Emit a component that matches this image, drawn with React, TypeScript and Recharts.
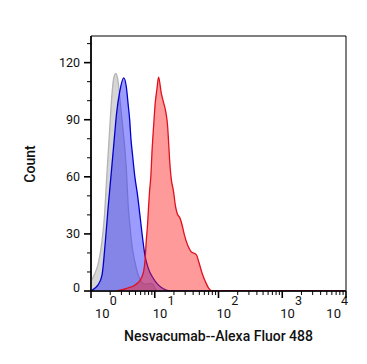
import React from "react";
import { ComposedChart, Area, XAxis, YAxis, ReferenceArea } from "recharts";

// Fluorescence values (x) and counts for each histogram
const grayX = [1, 1.086, 1.303, 1.472, 1.622, 1.766, 1.919, 2.065, 2.249, 2.449, 2.661, 2.831, 3.006, 3.192, 3.388, 3.597, 3.828, 4.074, 4.315, 4.875, 5.495, 6.166, 7.079, 8.318, 9.333, 10, 10.96, 10000];
const grayY = [5, 7.5, 14.6, 25, 39, 60, 79.6, 97, 111, 114.3, 110, 101.5, 92.7, 84, 75, 63, 45, 34.8, 26, 15.4, 8.4, 4.9, 3.5, 4, 3.5, 1.5, 0, 0];

const blueX = [1, 1.148, 1.288, 1.489, 1.679, 1.854, 2.065, 2.291, 2.512, 2.831, 3.266, 3.597, 3.828, 4.064, 4.217, 4.477, 4.875, 5.358, 5.848, 6.353, 6.998, 7.907, 9.462, 11.35, 14.45, 17.54, 10000];
const blueY = [0, 1.4, 3.2, 8.4, 26, 43.6, 61, 78, 93, 105, 112, 106.8, 98, 89, 80.5, 71.7, 60, 50.6, 40, 29.5, 19, 12, 6.7, 3.2, 0.8, 0, 0];

const redX = [2.512, 3.631, 4.932, 5.916, 6.668, 7.079, 7.345, 7.709, 7.98, 8.279, 8.71, 9.036, 9.594, 10.19, 10.81, 11.48, 12.65, 13.77, 15.0, 15.92, 16.52, 17.1, 17.99, 19.77, 21.04, 22.39, 25.12, 26.79, 29.17, 32.89, 37.15, 45.08, 48.98, 55.34, 62.37, 70.47, 79.43, 10000];
const redY = [0, 1.4, 3.2, 5.8, 10, 17, 26, 34.8, 43.6, 52, 61, 72.6, 86.6, 99, 106, 112.4, 104, 99, 93.6, 86.6, 77.8, 69, 60, 52, 45, 41, 38, 34.8, 29.5, 24, 20.7, 19, 15.4, 9.3, 4.9, 1.4, 0, 0];

const xMajorTicks = [1, 10, 100, 1000, 10000];
const xMinorMultipliers = [2, 3, 4, 5, 6, 7, 8, 9];
const yMajorTicks = [0, 30, 60, 90, 120];
const yMinorTicks = [10, 20, 40, 50, 70, 80, 100, 110, 130];
const yMax = 134;

const xTicks: number[] = [];
xMajorTicks.forEach((m, i) => {
  xTicks.push(m);
  if (i < xMajorTicks.length - 1) xMinorMultipliers.forEach((k) => xTicks.push(m * k));
});
const yTicks = [...yMajorTicks, ...yMinorTicks].sort((a, b) => a - b);

// Merge series into one table
const rowsMap = new Map<number, any>();
const addSeries = (xs: number[], ys: number[], key: string) => {
  xs.forEach((x, i) => {
    const row = rowsMap.get(x) || { x };
    row[key] = ys[i];
    rowsMap.set(x, row);
  });
};
addSeries(grayX, grayY, "gray");
addSeries(blueX, blueY, "blue");
addSeries(redX, redY, "red");
const data = Array.from(rowsMap.values()).sort((a, b) => a.x - b.x);

const FONT = "Roboto, 'Noto Sans', sans-serif";

const XTick = (props: any) => {
  const { x, y, payload } = props;
  const v = payload.value;
  const exp = Math.round(Math.log10(v));
  const isMajor = Math.abs(Math.pow(10, exp) - v) < 1e-6;
  if (!isMajor) {
    return <line x1={x} y1={y} x2={x} y2={y + 4} stroke="#000" strokeWidth={1} />;
  }
  let anchor: "start" | "end" = "start";
  let tx = x - 2;
  if (exp === 0) tx = x + 4;
  if (exp === 4) {
    anchor = "end";
    tx = x + 2;
  }
  return (
    <g>
      <line x1={x} y1={y} x2={x} y2={y + 7} stroke="#000" strokeWidth={1.6} />
      <text x={tx} y={y + 27} textAnchor={anchor} fontFamily={FONT} fontSize={13} fill="#111">
        10
        <tspan dy={-13} fontSize={12.5}>{exp}</tspan>
      </text>
    </g>
  );
};

const YTick = (props: any) => {
  const { x, y, payload } = props;
  const v = payload.value;
  const isMajor = yMajorTicks.includes(v);
  if (!isMajor) {
    return <line x1={x - 4} y1={y} x2={x} y2={y} stroke="#000" strokeWidth={1} />;
  }
  const dy = v === 0 ? 0.5 : 4.5;
  return (
    <g>
      <line x1={x - 7} y1={y} x2={x} y2={y} stroke="#000" strokeWidth={1.6} />
      <text x={x - 11} y={y + dy} textAnchor="end" fontFamily={FONT} fontSize={12.5} fill="#111">
        {v}
      </text>
    </g>
  );
};

const XTitle = () => (
  <text x={210.5} y={333} textAnchor="middle" fontFamily={FONT} fontSize={14} fontWeight={500} fill="#111">
    Nesvacumab--Alexa Fluor 488
  </text>
);

const YTitle = () => (
  <text
    x={27}
    y={156}
    textAnchor="middle"
    fontFamily={FONT}
    fontSize={14}
    fontWeight={500}
    fill="#111"
    transform="rotate(-90 27 156)"
  >
    Count
  </text>
);

export default function App() {
  return (
    <div style={{ width: 359, height: 356 }}>
      <ComposedChart width={359} height={356} data={data} margin={{ top: 28, right: 21, left: 0, bottom: 0 }}>
        <ReferenceArea x1={1} x2={10000} y1={0} y2={yMax} fill="none" stroke="#000" strokeWidth={1} ifOverflow="visible" />
        <Area
          type="monotone"
          dataKey="gray"
          connectNulls
          stroke="#b4b4b4"
          strokeWidth={1.3}
          fill="#c8c8c8"
          fillOpacity={0.75}
          isAnimationActive={false}
          dot={false}
          activeDot={false}
        />
        <Area
          type="monotone"
          dataKey="blue"
          connectNulls
          stroke="#0000cc"
          strokeWidth={1.3}
          fill="#2424ff"
          fillOpacity={0.45}
          isAnimationActive={false}
          dot={false}
          activeDot={false}
        />
        <Area
          type="monotone"
          dataKey="red"
          connectNulls
          stroke="#e0101e"
          strokeWidth={1.3}
          fill="#ff2020"
          fillOpacity={0.45}
          isAnimationActive={false}
          dot={false}
          activeDot={false}
        />
        <XAxis
          dataKey="x"
          type="number"
          scale="log"
          domain={[1, 10000]}
          allowDataOverflow
          ticks={xTicks}
          interval={0}
          tick={<XTick />}
          tickLine={false}
          tickSize={0}
          tickMargin={0}
          height={73}
          axisLine={{ stroke: "#000", strokeWidth: 1.6 }}
          label={<XTitle />}
        />
        <YAxis
          type="number"
          domain={[0, yMax]}
          allowDataOverflow
          ticks={yTicks}
          interval={0}
          tick={<YTick />}
          tickLine={false}
          tickSize={0}
          tickMargin={0}
          width={83}
          axisLine={{ stroke: "#000", strokeWidth: 1.6 }}
          label={<YTitle />}
        />
      </ComposedChart>
    </div>
  );
}
